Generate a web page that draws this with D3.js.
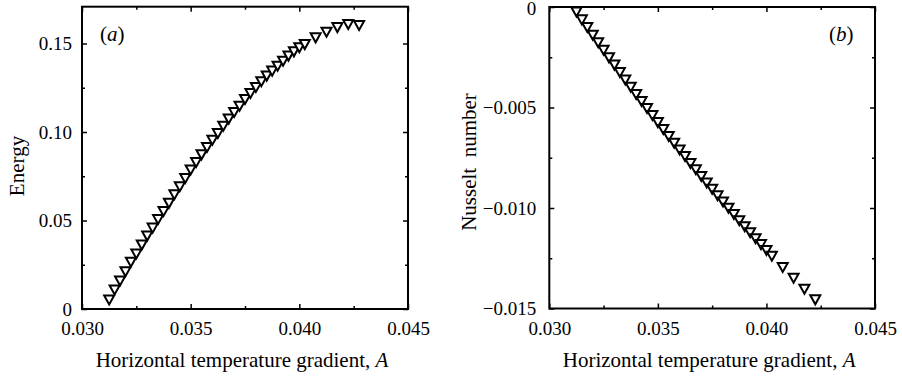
<!DOCTYPE html>
<html>
<head>
<meta charset="utf-8">
<script src="https://cdn.jsdelivr.net/npm/d3@7"></script>
<style>
  html, body { margin: 0; padding: 0; background: #fff; }
  svg { display: block; }
  text { font-family: "Liberation Serif", "Times New Roman", serif; fill: #000; }
</style>
</head>
<body>
<svg id="fig" width="902" height="378" font-family="Liberation Serif, Times New Roman, serif"></svg>
<script>
// Horizontal temperature gradient A (shared by both panels)
const gradientA = [
  0.03125, 0.0315, 0.03175, 0.032, 0.03225, 0.0325, 0.03275, 0.033, 0.03325, 0.0335,
  0.03375, 0.034, 0.03425, 0.0345, 0.03475, 0.035, 0.03525, 0.0355, 0.03575, 0.036,
  0.03625, 0.0365, 0.03675, 0.037, 0.03725, 0.0375, 0.03775, 0.038, 0.03825, 0.0385,
  0.03875, 0.039, 0.03925, 0.0395, 0.03975, 0.04, 0.04025,
  0.04075, 0.04125, 0.04175, 0.04225, 0.04275
];

// (a) energy
const energy = [
  0.0051, 0.0107, 0.0158, 0.0211, 0.0264, 0.0311, 0.0361, 0.0412, 0.0457, 0.0506,
  0.0551, 0.0597, 0.0646, 0.0691, 0.0738, 0.0785, 0.0828, 0.0871, 0.0913, 0.0954,
  0.0992, 0.1033, 0.1073, 0.1110, 0.1146, 0.1184, 0.1218, 0.1252, 0.1284, 0.1316,
  0.1344, 0.1372, 0.1400, 0.1429, 0.1453, 0.1476, 0.1494,
  0.1532, 0.1564, 0.1590, 0.1608, 0.1602
];

// (b) Nusselt number (no value at the last A)
const nusselt = [
  -0.00025, -0.00064, -0.00102, -0.00140, -0.00178, -0.00215, -0.00253, -0.00289, -0.00326, -0.00363,
  -0.00399, -0.00435, -0.00470, -0.00505, -0.00540, -0.00575, -0.00609, -0.00644, -0.00678, -0.00711,
  -0.00744, -0.00778, -0.00810, -0.00843, -0.00875, -0.00907, -0.00939, -0.00970, -0.01001, -0.01032,
  -0.01063, -0.01093, -0.01123, -0.01153, -0.01182, -0.01211, -0.01240,
  -0.01296, -0.01349, -0.01404, -0.01457
];

const xTicks = [0.030, 0.035, 0.040, 0.045];
const xTickLabels = ["0.030", "0.035", "0.040", "0.045"];
const xMinor = [0.0325, 0.0375, 0.0425];

const energyTicks = [0, 0.05, 0.10, 0.15];
const energyTickLabels = ["0", "0.05", "0.10", "0.15"];
const energyMinor = [0.025, 0.075, 0.125];

const nuTicks = [0, -0.005, -0.010, -0.015];
const nuTickLabels = ["0", "\u22120.005", "\u22120.010", "\u22120.015"];
const nuMinor = [-0.0025, -0.0075, -0.0125];

const FONT = "Liberation Serif, Times New Roman, serif";
const svg = d3.select("#fig");

function panel(opts) {
  const g = svg.append("g");
  const x = d3.scaleLinear().domain([0.030, 0.045]).range([opts.left, opts.right]);
  const y = d3.scaleLinear().domain(opts.yDomain).range([opts.bottom, opts.top]);
  const labelFmt = (vals, labels) => d => labels[vals.indexOf(d)];

  // major / minor ticks pointing inward on all four sides
  const add = (axis, tf) => {
    const a = g.append("g").attr("transform", tf).call(axis)
      .attr("font-family", FONT);
    a.select(".domain").remove();
    a.selectAll("line").attr("stroke", "#000").attr("stroke-width", 1.5);
    return a;
  };
  const bx = add(d3.axisBottom(x).tickValues(xTicks).tickSize(-5).tickPadding(26)
    .tickFormat(labelFmt(xTicks, xTickLabels)), `translate(0,${opts.bottom})`);
  bx.selectAll("text").attr("font-size", 19).attr("dy", 0).attr("font-family", FONT);
  add(d3.axisBottom(x).tickValues(xMinor).tickSize(-3).tickFormat(""), `translate(0,${opts.bottom})`);
  add(d3.axisTop(x).tickValues(xTicks).tickSize(-5).tickFormat(""), `translate(0,${opts.top})`);
  add(d3.axisTop(x).tickValues(xMinor).tickSize(-3).tickFormat(""), `translate(0,${opts.top})`);

  const ly = add(d3.axisLeft(y).tickValues(opts.yTicks).tickSize(-5).tickPadding(opts.yPad)
    .tickFormat(labelFmt(opts.yTicks, opts.yLabels)), `translate(${opts.left},0)`);
  ly.selectAll("text").attr("font-size", 19).attr("font-family", FONT)
    .attr("dy", d => (y(d) < 12 ? "0.42em" : "0.34em"));
  add(d3.axisLeft(y).tickValues(opts.yMinor).tickSize(-3).tickFormat(""), `translate(${opts.left},0)`);
  add(d3.axisRight(y).tickValues(opts.yTicks).tickSize(-5).tickFormat(""), `translate(${opts.right},0)`);
  add(d3.axisRight(y).tickValues(opts.yMinor).tickSize(-3).tickFormat(""), `translate(${opts.right},0)`);

  // frame
  g.append("rect")
    .attr("x", opts.left).attr("y", opts.top)
    .attr("width", opts.right - opts.left).attr("height", opts.bottom - opts.top)
    .attr("fill", "none").attr("stroke", "#000").attr("stroke-width", 2);

  // open downward triangles
  const tri = "M-5,-4.5L5,-4.5L0,4.5Z";
  g.append("g").selectAll("path")
    .data(opts.values.map((v, i) => [gradientA[i], v]))
    .join("path")
    .attr("d", tri)
    .attr("transform", d => `translate(${x(d[0])},${y(d[1])})`)
    .attr("fill", "#fff").attr("stroke", "#000").attr("stroke-width", 2)
    .attr("stroke-linejoin", "miter");

  // x title
  const xt = g.append("text")
    .attr("x", (opts.left + opts.right) / 2 - 3).attr("y", 367)
    .attr("text-anchor", "middle").attr("font-size", 21);
  xt.append("tspan").text("Horizontal temperature gradient, ");
  xt.append("tspan").attr("font-style", "italic").text("A");

  // y title
  g.append("text")
    .attr("transform", `translate(${opts.yTitleX},${opts.yTitleY}) rotate(-90)`)
    .attr("text-anchor", "middle").attr("font-size", 21)
    .attr("xml:space", "preserve")
    .text(opts.yTitle);

  // panel tag
  const tag = g.append("text").attr("x", opts.tagX).attr("y", opts.tagY).attr("font-size", 21);
  tag.append("tspan").text("(");
  tag.append("tspan").attr("font-style", "italic").text(opts.tag);
  tag.append("tspan").text(")");
}

panel({
  left: 82, right: 408, top: 6.7, bottom: 309,
  yDomain: [0, 0.1708],
  yTicks: energyTicks, yLabels: energyTickLabels, yMinor: energyMinor, yPad: 10,
  values: energy,
  yTitle: "Energy", yTitleX: 23.5, yTitleY: 166,
  tag: "a", tagX: 100, tagY: 41
});

panel({
  left: 549.3, right: 875, top: 7, bottom: 308.5,
  yDomain: [-0.015, 0],
  yTicks: nuTicks, yLabels: nuTickLabels, yMinor: nuMinor, yPad: 13,
  values: nusselt,
  yTitle: "Nusselt  number", yTitleX: 476, yTitleY: 162,
  tag: "b", tagX: 829, tagY: 41
});
</script>
</body>
</html>
